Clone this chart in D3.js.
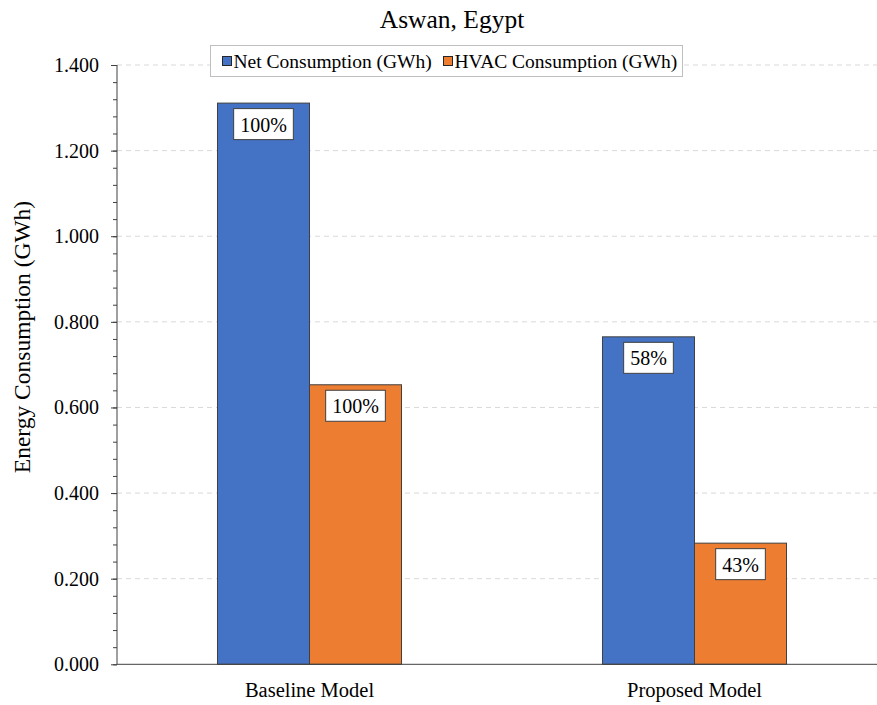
<!DOCTYPE html>
<html>
<head>
<meta charset="utf-8">
<script src="https://cdn.jsdelivr.net/npm/d3@7/dist/d3.min.js"></script>
<style>
  html, body { margin: 0; padding: 0; background: #fff; }
  svg { display: block; font-family: "Liberation Serif", "Times New Roman", serif; }
</style>
</head>
<body>
<svg id="chart" width="877" height="705"></svg>
<script>
// Energy use of the two building models (GWh)
const categories = ["Baseline Model", "Proposed Model"];
const seriesNames = ["Net Consumption (GWh)", "HVAC Consumption (GWh)"];
const netConsumption = [1.311, 0.765];
const hvacConsumption = [0.653, 0.283];
const yTicks = [0, 0.2, 0.4, 0.6, 0.8, 1.0, 1.2, 1.4];
const colors = ["#4472C4", "#ED7D31"];

const svg = d3.select("#chart");
const W = 877, H = 705;
const plotLeft = 117, plotRight = 887, plotTop = 65, plotBottom = 664.3;

const x = d3.scaleBand().domain(categories).range([plotLeft, plotRight])
  .paddingInner(0.522).paddingOuter(0.261);
const xs = d3.scaleBand().domain(seriesNames).range([0, x.bandwidth()]);
const y = d3.scaleLinear().domain([0, 1.4]).range([plotBottom, plotTop]);

// dashed horizontal gridlines
svg.append("g").selectAll("line").data(yTicks.filter(d => d > 0)).join("line")
  .attr("x1", plotLeft).attr("x2", W)
  .attr("y1", d => y(d)).attr("y2", d => y(d))
  .attr("stroke", "#d9d9d9").attr("stroke-width", 1)
  .attr("stroke-dasharray", "5,4");

// bars
const rows = categories.map((c, i) => ({
  cat: c,
  vals: [
    { s: seriesNames[0], v: netConsumption[i], pct: netConsumption[i] / netConsumption[0] },
    { s: seriesNames[1], v: hvacConsumption[i], pct: hvacConsumption[i] / hvacConsumption[0] }
  ]
}));

const groups = svg.append("g").selectAll("g").data(rows).join("g")
  .attr("transform", d => `translate(${x(d.cat)},0)`);

groups.selectAll("rect").data(d => d.vals).join("rect")
  .attr("x", d => xs(d.s))
  .attr("y", d => y(d.v))
  .attr("width", xs.bandwidth())
  .attr("height", d => y(0) - y(d.v))
  .attr("fill", (d, i) => colors[i])
  .attr("stroke", "#404040").attr("stroke-width", 1);

// percentage labels in boxes just inside each bar top
const labels = groups.selectAll("g.lbl").data(d => d.vals).join("g").attr("class", "lbl");
labels.each(function (d) {
  const g = d3.select(this);
  const cx = xs(d.s) + xs.bandwidth() / 2;
  const t = g.append("text")
    .attr("x", cx).attr("y", y(d.v) + 28.5)
    .attr("text-anchor", "middle")
    .attr("font-size", 20).attr("fill", "#000")
    .text(Math.round(d.pct * 100) + "%");
  const bb = t.node().getBBox();
  g.insert("rect", "text")
    .attr("x", cx - bb.width / 2 - 6.5).attr("y", y(d.v) + 5.5)
    .attr("width", bb.width + 13).attr("height", 31)
    .attr("fill", "#fff").attr("stroke", "#404040").attr("stroke-width", 1);
});

// y axis with major and minor ticks
const yAxisG = svg.append("g").attr("transform", `translate(${plotLeft},0)`);
yAxisG.append("g")
  .call(d3.axisLeft(y).tickValues(d3.range(0, 1.4001, 0.04)).tickSize(4).tickFormat(""))
  .call(g => g.select(".domain").remove())
  .call(g => g.selectAll("line").attr("stroke", "#404040"));
yAxisG.append("g")
  .call(d3.axisLeft(y).tickValues(yTicks).tickSize(6).tickPadding(12).tickFormat(d3.format(".3f")))
  .call(g => g.select(".domain").attr("stroke", "#404040").attr("d", `M0,${plotTop}V${plotBottom}`))
  .call(g => g.selectAll("line").attr("stroke", "#404040"))
  .call(g => g.selectAll("text").attr("font-size", 20).attr("fill", "#000")
    .attr("font-family", "Liberation Serif, Times New Roman, serif"));

// x axis baseline and category labels
svg.append("line").attr("x1", plotLeft).attr("x2", W)
  .attr("y1", plotBottom).attr("y2", plotBottom)
  .attr("stroke", "#404040").attr("stroke-width", 1);
svg.append("g").selectAll("text").data(categories).join("text")
  .attr("x", d => x(d) + x.bandwidth() / 2)
  .attr("y", 697)
  .attr("text-anchor", "middle").attr("font-size", 20.5).attr("fill", "#000")
  .text(d => d);

// title
svg.append("text").attr("x", 452).attr("y", 28)
  .attr("text-anchor", "middle").attr("font-size", 25.5).attr("fill", "#000")
  .text("Aswan, Egypt");

// y axis title
svg.append("text")
  .attr("transform", "translate(30,337) rotate(-90)")
  .attr("text-anchor", "middle").attr("font-size", 23.5).attr("fill", "#000")
  .text("Energy Consumption (GWh)");

// legend
const legend = svg.append("g");
legend.append("rect").attr("x", 210.5).attr("y", 45.5).attr("width", 472).attr("height", 31)
  .attr("fill", "#fff").attr("stroke", "#bfbfbf").attr("stroke-width", 1);
const legendX = [222, 443];
seriesNames.forEach((s, i) => {
  legend.append("rect").attr("x", legendX[i] + 0.5).attr("y", 56.5).attr("width", 9).attr("height", 9)
    .attr("fill", colors[i]).attr("stroke", "#262626").attr("stroke-width", 1);
  legend.append("text").attr("x", legendX[i] + 11.5).attr("y", 67.5)
    .attr("font-size", 19.5).attr("fill", "#000").text(s);
});
</script>
</body>
</html>
